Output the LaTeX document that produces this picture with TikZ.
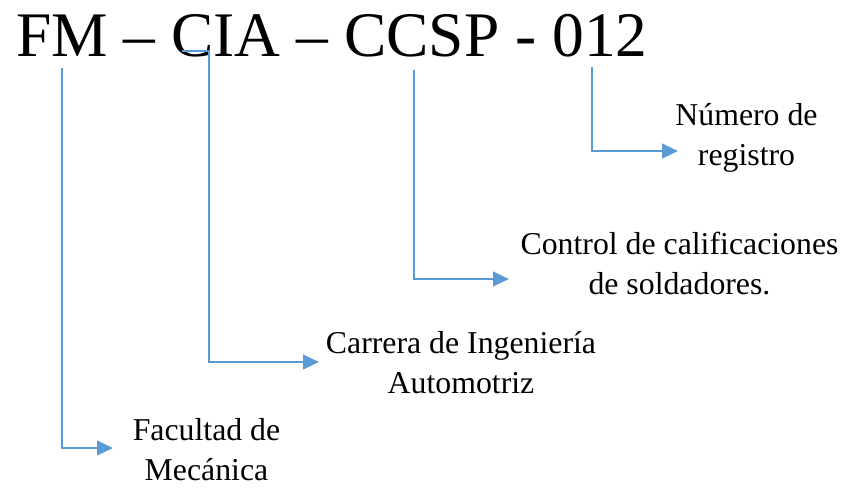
\documentclass[tikz,border=0pt]{standalone}
\usepackage{fontspec}
\setmainfont{Liberation Serif}
\usepackage{xcolor}
\usepackage{tikz}
\usetikzlibrary{arrows.meta}

\definecolor{linkblue}{RGB}{91,155,213}

\tikzset{
    link/.style={draw=linkblue, line width=1.6pt, -{Triangle[length=12pt,width=11pt]}},
    lab/.style={align=center, inner sep=0pt, anchor=base, font=\fontsize{23.85pt}{30pt}\selectfont}
}

\begin{document}
\begin{tikzpicture}[x=0.75pt, y=-0.75pt]
    \useasboundingbox (0,0) rectangle (851,490);

    % Code
    \node[anchor=base west, inner sep=0pt, font=\fontsize{47.6pt}{50pt}\selectfont] (code) at (16,56) {FM – CIA – CCSP - 012};

    % Meanings (base = last line)
    \node[lab] (fac) at (206.5,480) {Facultad de\\Mecánica};
    \node[lab] (car) at (461,393) {Carrera de Ingeniería\\Automotriz};
    \node[lab] (con) at (679.5,294) {Control de calificaciones\\de soldadores.};
    \node[lab] (num) at (746.5,165) {Número de\\registro};

    % Start and tip points
    \coordinate (s1) at (62,68);
    \coordinate (s2) at (182,51);
    \coordinate (k2) at (209,51);
    \coordinate (s3) at (414,70);
    \coordinate (s4) at (592,67);
    \coordinate (t1) at (113,448);
    \coordinate (t2) at (319,362);
    \coordinate (t3) at (509,279);
    \coordinate (t4) at (678,151);

    % Connectors
    \draw[link] (s1) |- (t1);
    \draw[link] (s2) -- (k2) |- (t2);
    \draw[link] (s3) |- (t3);
    \draw[link] (s4) |- (t4);
\end{tikzpicture}
\end{document}
